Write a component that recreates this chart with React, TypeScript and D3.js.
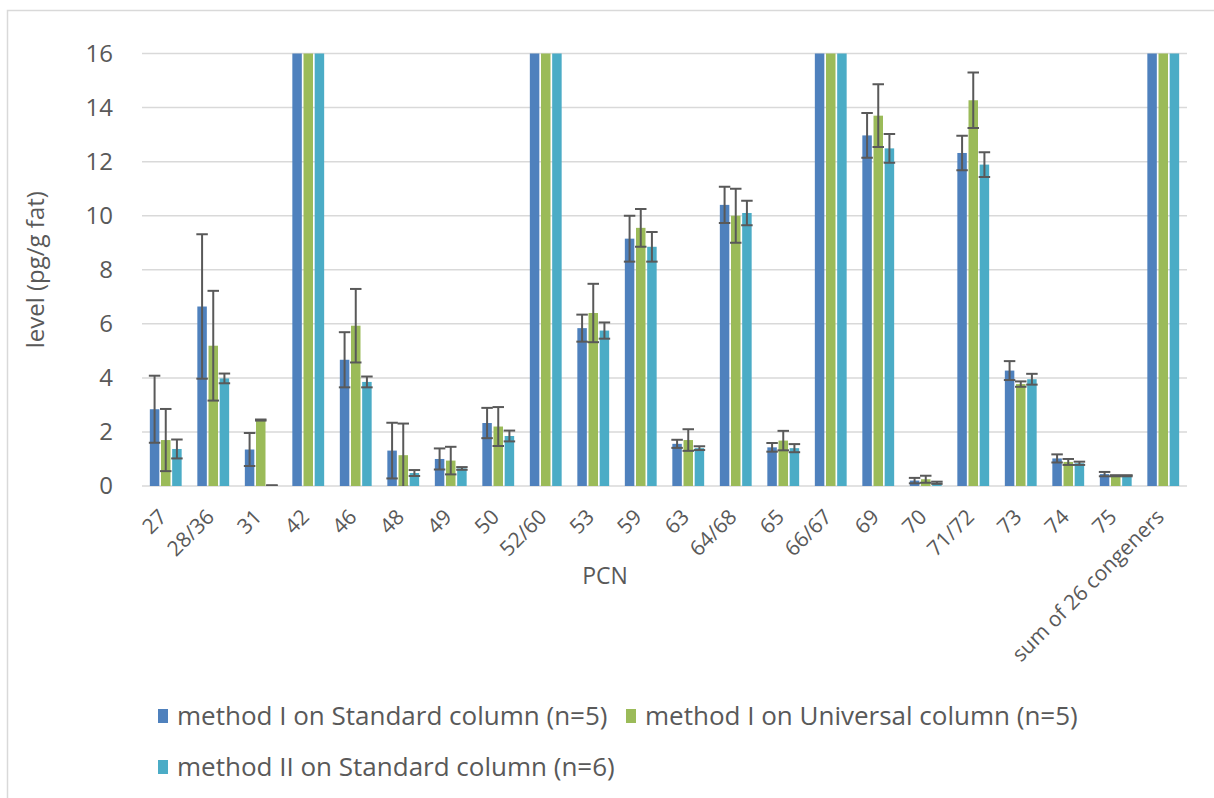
import React, { useEffect, useRef } from "react";
import * as d3 from "d3";

const categories = ["27", "28/36", "31", "42", "46", "48", "49", "50", "52/60", "53", "59", "63", "64/68", "65", "66/67", "69", "70", "71/72", "73", "74", "75", "sum of 26 congeners"];

const seriesNames = [
  "method I on Standard column (n=5)",
  "method I on Universal column (n=5)",
  "method II on Standard column (n=6)",
];

// bars that run past the top of the axis are clipped at 16, like the reference
const method1Std = [2.84, 6.64, 1.35, 30, 4.67, 1.31, 1.0, 2.33, 40, 5.84, 9.15, 1.56, 10.4, 1.43, 45, 12.97, 0.2, 12.32, 4.27, 1.02, 0.44, 230];
const method1Std_err = [1.24, 2.67, 0.61, 3, 1.02, 1.03, 0.39, 0.56, 4, 0.5, 0.85, 0.15, 0.67, 0.16, 5, 0.83, 0.1, 0.64, 0.35, 0.15, 0.08, 20];
const method1Uni = [1.7, 5.19, 2.44, 31, 5.93, 1.14, 0.94, 2.2, 41, 6.4, 9.55, 1.7, 10.0, 1.68, 46, 13.7, 0.25, 14.27, 3.77, 0.89, 0.38, 235];
const method1Uni_err = [1.15, 2.03, 0.02, 3, 1.36, 1.17, 0.51, 0.72, 4, 1.08, 0.7, 0.4, 1.0, 0.36, 5, 1.16, 0.13, 1.03, 0.1, 0.11, 0.02, 20];
const method2Std = [1.37, 3.98, 0.02, 29, 3.85, 0.48, 0.65, 1.85, 39, 5.75, 8.85, 1.4, 10.1, 1.4, 44, 12.49, 0.12, 11.89, 3.95, 0.84, 0.38, 225];
const method2Std_err = [0.35, 0.18, 0, 3, 0.2, 0.11, 0.05, 0.2, 4, 0.3, 0.55, 0.07, 0.45, 0.15, 5, 0.53, 0.04, 0.46, 0.2, 0.06, 0.02, 20];

const yTicks = [0, 2, 4, 6, 8, 10, 12, 14, 16];
const colors = ["#4f81bd", "#9bbb59", "#4bacc6"];

const App = () => {
  const ref = useRef<SVGSVGElement>(null);

  useEffect(() => {
    const svg = d3.select(ref.current);
    svg.selectAll("*").remove();

    const width = 1214;
    const height = 798;
    const margin = { top: 53.5, right: 27, bottom: 312, left: 142 };
    const font = "'Open Sans', sans-serif";
    const textColor = "#595959";

    const values = [method1Std, method1Uni, method2Std];
    const errs = [method1Std_err, method1Uni_err, method2Std_err];

    svg.attr("width", width).attr("height", height);

    svg.append("rect")
      .attr("x", 7.5).attr("y", 10.5)
      .attr("width", width).attr("height", height)
      .attr("fill", "#fff").attr("stroke", "#d9d9d9").attr("stroke-width", 1.5);

    const x = d3.scaleBand()
      .domain(categories)
      .range([margin.left, width - margin.right]);

    const x1 = d3.scaleBand()
      .domain(["0", "1", "2"])
      .range([0, x.bandwidth() * 0.67])
      .paddingInner(0.15);
    const groupOffset = (x.bandwidth() - x.bandwidth() * 0.67) / 2;

    const y = d3.scaleLinear()
      .domain([0, 16])
      .range([height - margin.bottom, margin.top]);

    // gridlines
    svg.append("g")
      .selectAll("line")
      .data(yTicks)
      .enter()
      .append("line")
      .attr("x1", margin.left)
      .attr("x2", width - margin.right)
      .attr("y1", (d) => y(d))
      .attr("y2", (d) => y(d))
      .attr("stroke", "#d9d9d9")
      .attr("stroke-width", 1.5);

    // y labels
    svg.append("g")
      .selectAll("text")
      .data(yTicks)
      .enter()
      .append("text")
      .attr("x", 113)
      .attr("y", (d) => y(d))
      .attr("dy", "0.35em")
      .attr("text-anchor", "end")
      .attr("font-family", font)
      .attr("font-size", 24)
      .attr("fill", textColor)
      .text((d) => d);

    svg.append("defs")
      .append("clipPath")
      .attr("id", "plotClip")
      .append("rect")
      .attr("x", margin.left)
      .attr("y", y(16))
      .attr("width", width - margin.left - margin.right)
      .attr("height", y(0) - y(16));

    const plot = svg.append("g").attr("clip-path", "url(#plotClip)");

    values.forEach((vals, s) => {
      const bx = (i: number) => (x(categories[i]) as number) + groupOffset + (x1(String(s)) as number);
      plot.append("g")
        .selectAll("rect")
        .data(vals)
        .enter()
        .append("rect")
        .attr("x", (d, i) => bx(i))
        .attr("y", (d) => y(d))
        .attr("width", x1.bandwidth())
        .attr("height", (d) => y(0) - y(d))
        .attr("fill", colors[s]);
    });

    // error bars
    values.forEach((vals, s) => {
      const cx = (i: number) => (x(categories[i]) as number) + groupOffset + (x1(String(s)) as number) + x1.bandwidth() / 2;
      const g = plot.append("g").attr("stroke", "#595959").attr("stroke-width", 2);
      vals.forEach((v, i) => {
        const e = errs[s][i];
        const hw = x1.bandwidth() / 2 + 1;
        g.append("line").attr("x1", cx(i)).attr("x2", cx(i)).attr("y1", y(v - e)).attr("y2", y(v + e));
        g.append("line").attr("x1", cx(i) - hw).attr("x2", cx(i) + hw).attr("y1", y(v + e)).attr("y2", y(v + e));
        g.append("line").attr("x1", cx(i) - hw).attr("x2", cx(i) + hw).attr("y1", y(v - e)).attr("y2", y(v - e));
      });
    });

    // x labels
    svg.append("g")
      .selectAll("text")
      .data(categories)
      .enter()
      .append("text")
      .attr("transform", (d) => `translate(${(x(d) as number) + x.bandwidth() / 2 - 3},${y(0) + 27}) rotate(-45)`)
      .attr("dy", "0.35em")
      .attr("text-anchor", "end")
      .attr("font-family", font)
      .attr("font-size", 21)
      .attr("fill", textColor)
      .text((d) => d);

    svg.append("text")
      .attr("x", 605)
      .attr("y", 576)
      .attr("dy", "0.35em")
      .attr("text-anchor", "middle")
      .attr("font-family", font)
      .attr("font-size", 23)
      .attr("fill", textColor)
      .text("PCN");

    svg.append("text")
      .attr("transform", `translate(36,${(y(0) + y(16)) / 2}) rotate(-90)`)
      .attr("dy", "0.35em")
      .attr("text-anchor", "middle")
      .attr("font-family", font)
      .attr("font-size", 24)
      .attr("fill", textColor)
      .text("level (pg/g fat)");

    // legend
    const legendPos = [[158, 716], [626, 716], [158, 767]];
    seriesNames.forEach((name, s) => {
      const [lx, ly] = legendPos[s];
      svg.append("rect")
        .attr("x", lx).attr("y", ly - 7)
        .attr("width", 10).attr("height", 14)
        .attr("fill", colors[s]);
      svg.append("text")
        .attr("x", lx + 19)
        .attr("y", ly)
        .attr("dy", "0.35em")
        .attr("font-family", font)
        .attr("font-size", 26)
        .attr("fill", textColor)
        .text(name);
    });
  }, []);

  return <svg ref={ref} style={{ position: "absolute", left: 0, top: 0 }}></svg>;
};

export default App;
